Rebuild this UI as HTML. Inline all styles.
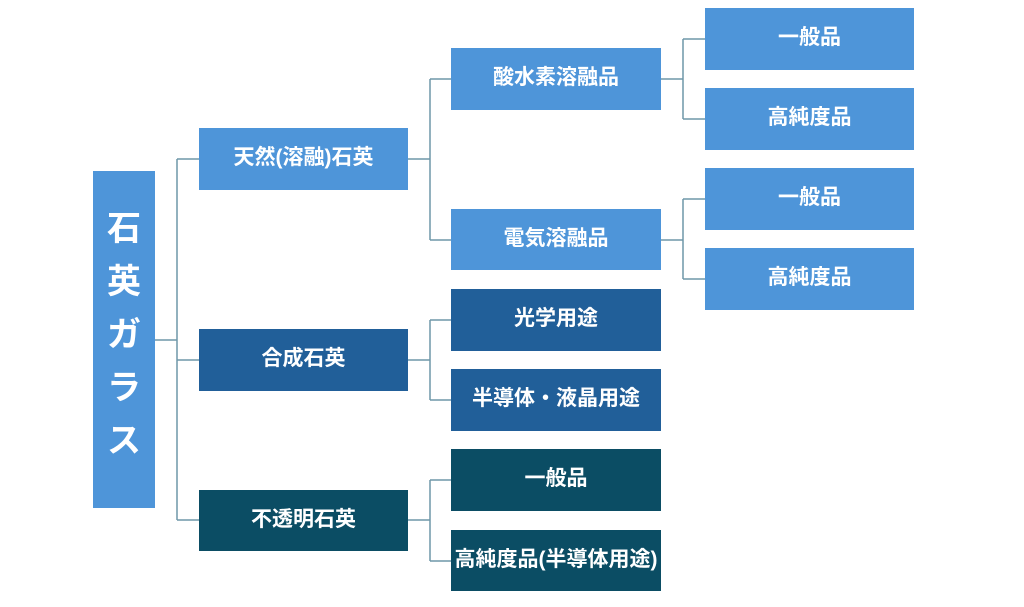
<!DOCTYPE html>
<html><head><meta charset="utf-8"><style>
body{margin:0;width:1024px;height:607px;background:#fff;position:relative;overflow:hidden;font-family:"Liberation Sans","Noto Sans CJK JP",sans-serif}
.b{position:absolute;color:#fff;font-weight:bold;font-size:21px;display:flex;align-items:center;justify-content:center;white-space:nowrap;box-sizing:border-box;padding-bottom:6px}
.l{background:#4e95d9}.m{background:#215f99}.d{background:#0b4d64}
svg{position:absolute;left:0;top:0}
</style></head><body>
<svg width="1024" height="607"><g stroke="#6f97a8" stroke-width="1.5" fill="none">
<path d="M155 340H177M177 159V520M177 159H199M177 360H199M177 520H199"/>
<path d="M408 159H430M430 79V240M430 79H451M430 240H451"/>
<path d="M408 360H430M430 320V400M430 320H451M430 400H451"/>
<path d="M408 520H430M430 480V561M430 480H451M430 561H451"/>
<path d="M661 79H683M683 39V119M683 39H705M683 119H705"/>
<path d="M661 240H683M683 199V279M683 199H705M683 279H705"/>
</g></svg>
<div class="b l" style="left:93px;top:171px;width:62px;height:337px;font-size:34px;flex-direction:column;line-height:53px;padding-bottom:8px">石<br>英<br>ガ<br>ラ<br>ス</div>
<div class="b l" style="left:199px;top:128px;width:209px;height:62px">天然(溶融)石英</div>
<div class="b m" style="left:199px;top:329px;width:209px;height:62px">合成石英</div>
<div class="b d" style="left:199px;top:490px;width:209px;height:61px">不透明石英</div>
<div class="b l" style="left:451px;top:48px;width:210px;height:62px">酸水素溶融品</div>
<div class="b l" style="left:451px;top:209px;width:210px;height:61px">電気溶融品</div>
<div class="b m" style="left:451px;top:289px;width:210px;height:62px">光学用途</div>
<div class="b m" style="left:451px;top:369px;width:210px;height:62px">半導体・液晶用途</div>
<div class="b d" style="left:451px;top:449px;width:210px;height:62px">一般品</div>
<div class="b d" style="left:451px;top:530px;width:210px;height:61px">高純度品(半導体用途)</div>
<div class="b l" style="left:705px;top:8px;width:209px;height:62px">一般品</div>
<div class="b l" style="left:705px;top:88px;width:209px;height:62px">高純度品</div>
<div class="b l" style="left:705px;top:168px;width:209px;height:62px">一般品</div>
<div class="b l" style="left:705px;top:248px;width:209px;height:62px">高純度品</div>
</body></html>
